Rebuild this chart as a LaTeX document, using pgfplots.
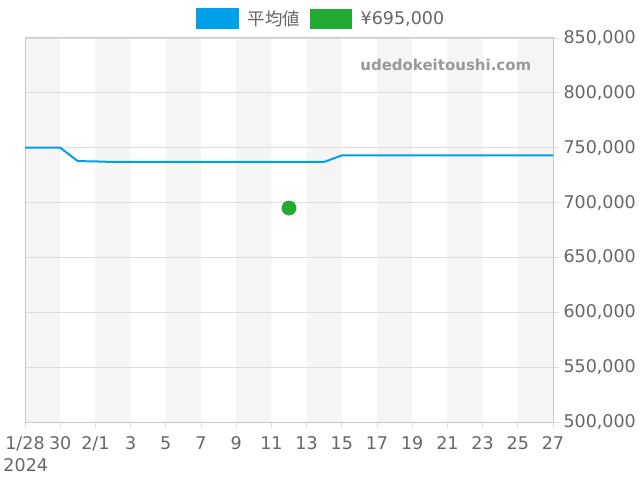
\documentclass[border=0pt]{standalone}
\usepackage{pgfplots}
\pgfplotsset{compat=1.18}
\usepackage{fontspec}
\setmainfont{DejaVu Sans}
\newfontfamily\jp{Noto Sans CJK JP}
\definecolor{avgblue}{RGB}{0,160,233}
\definecolor{ptgreen}{RGB}{34,170,51}
\definecolor{band}{RGB}{245,245,245}
\definecolor{gridc}{RGB}{221,221,221}
\definecolor{spine}{RGB}{200,200,200}
\definecolor{txt}{RGB}{102,102,102}

\begin{document}
\begin{tikzpicture}
\pgfplotsset{set layers}
\begin{axis}[
  at={(0,0)}, anchor=south west,
  scale only axis, width=528bp, height=384bp,
  xmin=0, xmax=30, ymin=500000, ymax=850000,
  xtick={0,2,...,30},
  xticklabels={1/28,30,2/1,3,5,7,9,11,13,15,17,19,21,23,25,27},
  ytick={500000,550000,...,850000},
  scaled y ticks=false,
  yticklabel pos=right, ytick pos=right, xtick pos=bottom,
  tick align=outside, major tick length=6bp,
  ymajorgrids, grid style={gridc, line width=0.8bp},
  axis line style={spine, line width=1bp},
  tick style={gridc, line width=0.8bp},
  ticklabel style={font=\fontsize{17.5bp}{19bp}\selectfont, text=txt},
  xticklabel style={yshift=-5bp},
  yticklabel style={/pgf/number format/fixed, /pgf/number format/1000 sep={,},
    /pgf/number format/assume math mode=true, anchor=west, xshift=1bp},
  legend style={at={(0.5587,1.0495)}, anchor=center,
    draw=none, fill=none, legend columns=-1, inner sep=0pt,
    font=\fontsize{17.5bp}{19bp}\selectfont, text=txt,
    nodes={inner sep=0pt},
    /tikz/every odd column/.append style={column sep=9bp},
    /tikz/every even column/.append style={column sep=10bp}},
]
% alternating background bands (every other 2-day span)
\addplot[on layer=axis background, fill=band, draw=none, forget plot] coordinates {
  (0,500000)(0,850000)(2,850000)(2,500000)
  (4,500000)(4,850000)(6,850000)(6,500000)
  (8,500000)(8,850000)(10,850000)(10,500000)
  (12,500000)(12,850000)(14,850000)(14,500000)
  (16,500000)(16,850000)(18,850000)(18,500000)
  (20,500000)(20,850000)(22,850000)(22,500000)
  (24,500000)(24,850000)(26,850000)(26,500000)
  (28,500000)(28,850000)(30,850000)(30,500000)
};

% average price
\addplot[avgblue, line width=2bp,
  legend image code/.code={\fill[avgblue] (0bp,-9.5bp) rectangle (41bp,9.5bp);}]
  coordinates {
  (0,750000)(1,750000)(2,750000)(3,737800)(4,737500)(5,737000)(6,737000)
  (7,737000)(8,737000)(9,737000)(10,737000)(11,737000)(12,737000)(13,737000)
  (14,737000)(15,737000)(16,737000)(17,737000)(18,743000)(19,743000)(20,743000)
  (21,743000)(22,743000)(23,743000)(24,743000)(25,743000)(26,743000)(27,743000)
  (28,743000)(29,743000)(30,743000)
};
\addlegendentry{\jp 平均値}

% single listing
\addplot[only marks, mark=*, mark size=7.2bp, color=ptgreen,
  legend image code/.code={\fill[ptgreen] (0bp,-9.5bp) rectangle (41bp,9.5bp);}]
  coordinates {
  (15,695000)
};
\addlegendentry{¥695,000}

\node[font=\fontsize{15bp}{17bp}\selectfont\bfseries, text={rgb,255:red,153;green,153;blue,153}]
  at (rel axis cs:0.797,0.9297) {udedokeitoushi.com};
\end{axis}
\node[anchor=west, inner sep=0pt, font=\fontsize{17.5bp}{19bp}\selectfont, text=txt]
  at (-21.7bp,-43.5bp) {2024};
\path (-25bp,-58bp) rectangle (615bp,422bp);
\end{tikzpicture}
\end{document}
